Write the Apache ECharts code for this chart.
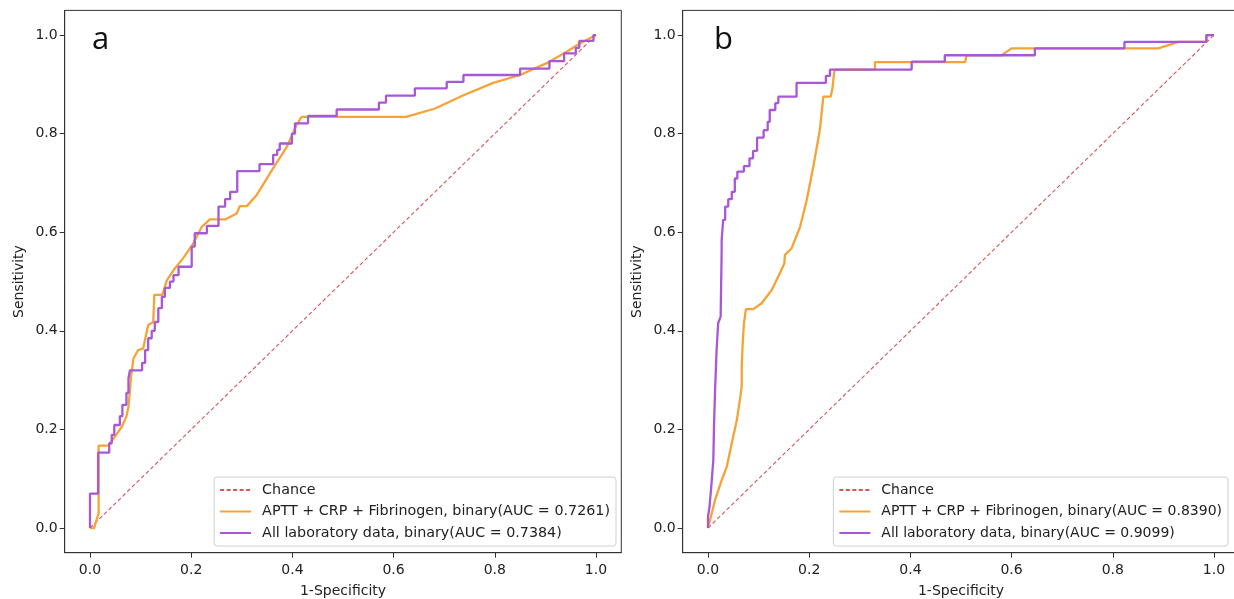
<!DOCTYPE html>
<html>
<head>
<meta charset="utf-8">
<script src="https://cdn.jsdelivr.net/npm/echarts@6/dist/echarts.min.js"></script>
<style>
html,body{margin:0;padding:0;background:#fff;}
#c{width:1234px;height:599px;}
</style>
</head>
<body>
<div id="c"></div>
<script>
// ---------- DATA ----------
const tickValues = [0, 0.2, 0.4, 0.6, 0.8, 1.0];
const chanceLine = [[0, 0], [1, 1]];

const namesA = [
  'Chance',
  'APTT + CRP + Fibrinogen, binary(AUC = 0.7261)',
  'All laboratory data, binary(AUC = 0.7384)'
];
const namesB = [
  'Chance',
  'APTT + CRP + Fibrinogen, binary(AUC = 0.8390)',
  'All laboratory data, binary(AUC = 0.9099)'
];

// Panel a – APTT + CRP + Fibrinogen
const rocA_aptt = [[0,0],[0.008,0],[0.017,0.03],[0.017,0.167],[0.036,0.167],[0.049,0.185],[0.063,0.206],[0.072,0.226],[0.076,0.246],[0.079,0.28],[0.081,0.307],[0.086,0.344],[0.095,0.361],[0.105,0.364],[0.115,0.412],[0.125,0.418],[0.127,0.473],[0.143,0.473],[0.152,0.503],[0.168,0.527],[0.184,0.547],[0.204,0.577],[0.221,0.611],[0.237,0.626],[0.267,0.626],[0.29,0.638],[0.296,0.653],[0.31,0.653],[0.329,0.675],[0.362,0.73],[0.389,0.773],[0.408,0.817],[0.418,0.834],[0.625,0.834],[0.682,0.851],[0.738,0.878],[0.797,0.903],[0.85,0.919],[0.9025,0.943],[0.942,0.966],[0.968,0.983],[1.0,1.0]];

// Panel a – All laboratory data
const rocA_all = [[0,0],[0,0.07],[0.016,0.07],[0.016,0.153],[0.038,0.153],[0.038,0.172],[0.043,0.172],[0.043,0.189],[0.048,0.189],[0.048,0.209],[0.059,0.209],[0.059,0.227],[0.064,0.227],[0.064,0.25],[0.072,0.25],[0.072,0.274],[0.076,0.274],[0.076,0.304],[0.079,0.304],[0.079,0.32],[0.103,0.32],[0.103,0.335],[0.109,0.335],[0.109,0.361],[0.115,0.361],[0.115,0.385],[0.122,0.385],[0.122,0.40],[0.128,0.40],[0.128,0.418],[0.135,0.418],[0.135,0.446],[0.142,0.446],[0.142,0.469],[0.148,0.469],[0.148,0.487],[0.158,0.487],[0.158,0.50],[0.165,0.50],[0.165,0.513],[0.175,0.513],[0.175,0.53],[0.201,0.53],[0.201,0.571],[0.207,0.571],[0.207,0.598],[0.231,0.598],[0.231,0.613],[0.254,0.613],[0.254,0.652],[0.267,0.652],[0.267,0.667],[0.277,0.667],[0.277,0.682],[0.291,0.682],[0.291,0.724],[0.335,0.724],[0.335,0.738],[0.362,0.738],[0.362,0.757],[0.370,0.757],[0.370,0.767],[0.375,0.767],[0.375,0.78],[0.399,0.78],[0.399,0.80],[0.405,0.80],[0.405,0.821],[0.431,0.821],[0.431,0.836],[0.4875,0.836],[0.4875,0.849],[0.571,0.849],[0.571,0.863],[0.585,0.863],[0.585,0.877],[0.642,0.877],[0.642,0.892],[0.705,0.892],[0.705,0.905],[0.738,0.905],[0.738,0.919],[0.85,0.919],[0.85,0.932],[0.908,0.932],[0.908,0.947],[0.937,0.947],[0.937,0.963],[0.96,0.963],[0.96,0.974],[0.967,0.974],[0.967,0.988],[0.995,0.988],[0.995,1.0],[1,1]];

// Panel b – APTT + CRP + Fibrinogen
const rocB_aptt = [[0,0],[0.014,0.057],[0.027,0.097],[0.037,0.124],[0.047,0.172],[0.057,0.219],[0.063,0.26],[0.0666,0.287],[0.0666,0.327],[0.0686,0.375],[0.071,0.415],[0.075,0.444],[0.0896,0.444],[0.106,0.456],[0.126,0.483],[0.142,0.517],[0.151,0.537],[0.152,0.554],[0.165,0.567],[0.182,0.611],[0.195,0.665],[0.208,0.733],[0.221,0.807],[0.228,0.875],[0.2425,0.875],[0.246,0.892],[0.249,0.922],[0.251,0.93],[0.33,0.93],[0.33,0.945],[0.508,0.945],[0.511,0.959],[0.58,0.959],[0.60,0.973],[0.89,0.973],[0.93,0.986],[0.985,0.986],[0.985,1.0],[1,1]];

// Panel b – All laboratory data
const rocB_all = [[0,0],[0,0.023],[0.003,0.043],[0.007,0.091],[0.0105,0.138],[0.012,0.212],[0.014,0.28],[0.017,0.361],[0.02,0.415],[0.025,0.429],[0.027,0.564],[0.027,0.584],[0.030,0.584],[0.030,0.625],[0.034,0.625],[0.034,0.652],[0.040,0.652],[0.040,0.667],[0.047,0.667],[0.047,0.682],[0.053,0.682],[0.053,0.709],[0.058,0.709],[0.058,0.723],[0.071,0.723],[0.071,0.734],[0.082,0.734],[0.082,0.75],[0.089,0.75],[0.089,0.765],[0.097,0.765],[0.097,0.792],[0.110,0.792],[0.110,0.807],[0.118,0.807],[0.118,0.824],[0.122,0.824],[0.122,0.848],[0.133,0.848],[0.133,0.862],[0.139,0.862],[0.139,0.875],[0.175,0.875],[0.175,0.903],[0.233,0.903],[0.233,0.917],[0.241,0.917],[0.241,0.93],[0.4025,0.93],[0.4025,0.946],[0.468,0.946],[0.468,0.959],[0.646,0.959],[0.646,0.973],[0.823,0.973],[0.823,0.986],[0.985,0.986],[0.985,1.0],[1,1]];

// ---------- STYLE ----------
const FONT = 'DejaVu Sans';
const C_CHANCE = '#d4555a';
const C_ORANGE = '#f5a336';
const C_PURPLE = '#a857d6';

function xAxisCfg(gi) {
  return {
    type: 'value', gridIndex: gi, min: -0.05, max: 1.05,
    name: '1-Specificity', nameLocation: 'middle', nameGap: 32,
    nameTextStyle: { fontFamily: FONT, fontSize: 14, color: '#222' },
    axisLine: { show: true, onZero: false, lineStyle: { color: '#333', width: 1 } },
    axisTick: { show: true, inside: false, length: 5, customValues: tickValues, lineStyle: { color: '#333' } },
    axisLabel: { customValues: tickValues, formatter: v => v.toFixed(1), fontFamily: FONT, fontSize: 14, color: '#222', margin: 11 },
    splitLine: { show: false }
  };
}
function yAxisCfg(gi) {
  return {
    type: 'value', gridIndex: gi, min: -0.05, max: 1.05,
    name: 'Sensitivity', nameLocation: 'middle', nameGap: 38, nameRotate: 90,
    nameTextStyle: { fontFamily: FONT, fontSize: 14, color: '#222' },
    axisLine: { show: true, onZero: false, lineStyle: { color: '#333', width: 1 } },
    axisTick: { show: true, inside: false, length: 5, customValues: tickValues, lineStyle: { color: '#333' } },
    axisLabel: { customValues: tickValues, formatter: v => v.toFixed(1), fontFamily: FONT, fontSize: 14, color: '#222', margin: 7 },
    splitLine: { show: false }
  };
}
function lineSeries(name, data, gi, color, width, dashed, z) {
  return {
    type: 'line', name: name, data: data, xAxisIndex: gi, yAxisIndex: gi,
    symbol: 'none', showSymbol: false, smooth: false, animation: false, z: z,
    lineStyle: { color: color, width: width, type: dashed ? [4, 2.5] : 'solid' },
    itemStyle: { color: color }
  };
}
function legendCfg(names, right, fs) {
  return {
    data: names, orient: 'vertical', right: right, bottom: 53,
    itemWidth: 31, itemHeight: 14, itemGap: 7.5,
    padding: [6, 6, 6, 5],
    backgroundColor: 'rgba(255,255,255,0.8)', borderColor: '#d0d0d0', borderWidth: 1, borderRadius: 3,
    itemStyle: { opacity: 0 },
    textStyle: { fontFamily: FONT, fontSize: fs, color: '#222', padding: [0, 0, 0, 6] },
    selectedMode: false
  };
}

const chart = echarts.init(document.getElementById('c'), null, { renderer: 'canvas' });
chart.setOption({
  backgroundColor: '#fff',
  animation: false,
  grid: [
    { left: 64.7, top: 10.4, width: 556.6, height: 542.3, show: true, borderColor: '#333', borderWidth: 1, containLabel: false, outerBoundsMode: 'none' },
    { left: 682.7, top: 10.4, width: 556.6, height: 542.3, show: true, borderColor: '#333', borderWidth: 1, containLabel: false, outerBoundsMode: 'none' }
  ],
  xAxis: [xAxisCfg(0), xAxisCfg(1)],
  yAxis: [yAxisCfg(0), yAxisCfg(1)],
  legend: [legendCfg(namesA, 618, 14.3), legendCfg(namesB, 6, 14)],
  graphic: [
    { type: 'text', left: 92, top: 25, style: { text: 'a', fontFamily: 'Open Sans', fontSize: 31, fill: '#111' } },
    { type: 'text', left: 714, top: 25, style: { text: 'b', fontFamily: 'Open Sans', fontSize: 31, fill: '#111' } }
  ],
  series: [
    lineSeries(namesA[0], chanceLine, 0, C_CHANCE, 1.1, true, 1),
    lineSeries(namesA[1], rocA_aptt, 0, C_ORANGE, 2.3, false, 2),
    lineSeries(namesA[2], rocA_all, 0, C_PURPLE, 2.3, false, 3),
    lineSeries(namesB[0], chanceLine, 1, C_CHANCE, 1.1, true, 1),
    lineSeries(namesB[1], rocB_aptt, 1, C_ORANGE, 2.3, false, 2),
    lineSeries(namesB[2], rocB_all, 1, C_PURPLE, 2.3, false, 3)
  ]
});
</script>
</body>
</html>
